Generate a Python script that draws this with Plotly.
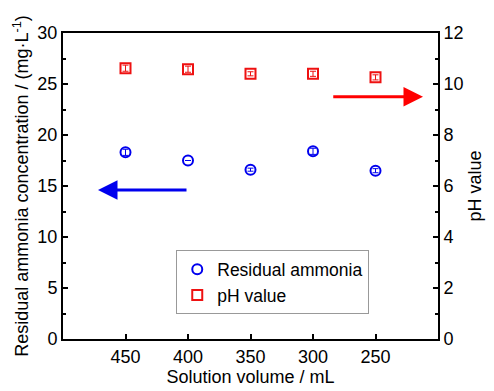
import plotly.graph_objects as go

volumes = [450, 400, 350, 300, 250]
ammonia = [18.3, 17.5, 16.6, 18.4, 16.5]
ammonia_err = [0.3, 0.0, 0.15, 0.3, 0.2]
ph = [10.62, 10.58, 10.4, 10.4, 10.26]
ph_err = [0.12, 0.12, 0.08, 0.1, 0.1]

font = "Liberation Sans, Arial, sans-serif"

fig = go.Figure()
fig.add_trace(go.Scatter(
    x=volumes, y=ammonia, mode="markers", name="Residual ammonia",
    marker=dict(symbol="circle-open", size=10, color="#0000ee", line=dict(width=2)),
    error_y=dict(type="data", array=ammonia_err, width=3, thickness=1, color="#0000ee"),
    yaxis="y"))
fig.add_trace(go.Scatter(
    x=volumes, y=ph, mode="markers", name="pH value",
    marker=dict(symbol="square-open", size=10, color="#ee1111", line=dict(width=2)),
    error_y=dict(type="data", array=ph_err, width=3, thickness=1, color="#ee1111"),
    yaxis="y2"))

fig.add_annotation(x=472, y=14.6, ax=400, ay=14.6, xref="x", yref="y", axref="x", ayref="y",
                   showarrow=True, arrowhead=2, arrowsize=1.3, arrowwidth=3, arrowcolor="#0000ee",
                   text=" ", font=dict(size=1))
fig.add_annotation(x=212, y=9.5, ax=285, ay=9.5, xref="x", yref="y2", axref="x", ayref="y2",
                   showarrow=True, arrowhead=2, arrowsize=1.3, arrowwidth=3, arrowcolor="#ff0000",
                   text=" ", font=dict(size=1))

axis_common = dict(showline=True, linecolor="black", linewidth=2, ticks="inside",
                   tickcolor="black", tickwidth=2, ticklen=5, showgrid=False, zeroline=False,
                   tickfont=dict(size=18, color="black", family=font))

fig.update_layout(
    width=494, height=391,
    margin=dict(l=63, r=44, t=33, b=46),
    paper_bgcolor="white", plot_bgcolor="white",
    font=dict(family=font, color="black"),
    showlegend=True,
    legend=dict(x=0.302, y=0.29, xanchor="left", yanchor="top",
                bordercolor="#999999", borderwidth=1, bgcolor="white",
                font=dict(size=17.5, family=font), itemwidth=30, tracegroupgap=0),
    xaxis=dict(range=[500, 200], tickvals=volumes, mirror=True,
               title=dict(text="Solution volume / mL", font=dict(size=18), standoff=0),
               **axis_common),
    yaxis=dict(range=[0, 30], dtick=5,
               minor=dict(ticks="inside", ticklen=3, tickwidth=2, tickcolor="black", dtick=2.5),
               title=dict(text="Residual ammonia concentration / (mg·L<sup>-1</sup>)", font=dict(size=18), standoff=4),
               **axis_common),
    yaxis2=dict(range=[0, 12], dtick=2, overlaying="y", side="right",
                minor=dict(ticks="inside", ticklen=3, tickwidth=2, tickcolor="black", dtick=1),
                title=dict(text="pH value", font=dict(size=18), standoff=6),
                **axis_common),
)

fig.write_html("out.html")
